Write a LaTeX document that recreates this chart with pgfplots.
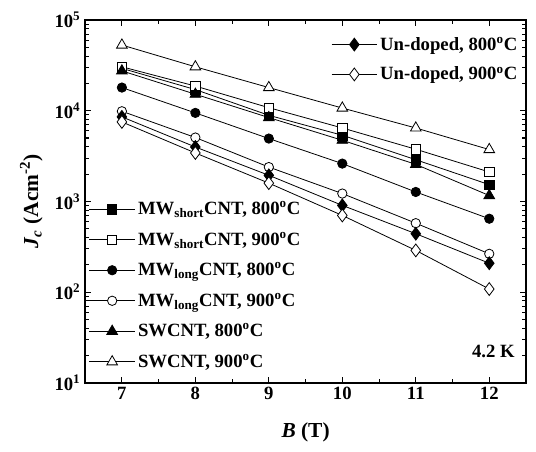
\documentclass[border=0pt]{standalone}
\usepackage{pgfplots}
\pgfplotsset{compat=1.18}
\usepackage{fontspec}
\setmainfont{Liberation Serif}

\newcommand{\dg}{\textsuperscript{o}C}

\tikzset{
  jcfill/.style={black, line width=0.6pt, mark size=3.5pt, mark options={solid, fill=black}},
  jcopen/.style={black, line width=0.6pt, mark size=3.5pt, mark options={solid, fill=white}},
}

\begin{document}
\begin{tikzpicture}
\begin{axis}[
  scale only axis,
  width=330pt, height=271.5pt,
  xmin=6.5, xmax=12.5, ymin=10, ymax=1e5,
  ymode=log,
  xtick={7,8,9,10,11,12},
  minor x tick num=1,
  tick align=inside,
  axis line style={line width=1.2pt},
  tick style={black, line width=0.8pt},
  xticklabel style={font=\bfseries\fontsize{14}{16}\selectfont, /pgf/number format/assume math mode=true},
  yticklabel style={font=\bfseries\fontsize{14}{16}\selectfont},
  yticklabel={\pgfmathparse{int(round(\tick/ln(10)))}10\textsuperscript{\pgfmathresult}},
  xlabel={\textit{B} (T)},
  ylabel={\textit{J}\textsubscript{\textit{c}} (Acm\textsuperscript{-2})},
  label style={font=\bfseries\fontsize{16}{18}\selectfont},
  xlabel style={yshift=-10pt},
  ylabel style={yshift=2pt},
  legend cell align=left,
  legend style={draw=none, fill=none, at={(0.005,0.025)}, anchor=south west,
    font=\bfseries\fontsize{14}{16}\selectfont, row sep=7.5pt, inner sep=1pt},
  legend image code/.code={\draw[mark repeat=2, mark phase=2] plot coordinates {(0cm,0cm) (0.6cm,0cm) (1.2cm,0cm)};},
]
% MW short 800
\addplot[jcfill, mark=square*] coordinates {
  (7,29300) (8,17100) (9,8900) (10,5360) (11,2880) (12,1530)};
\addlegendentry{MW\textsubscript{short}CNT, 800\dg}
% MW short 900
\addplot[jcopen, mark=square*] coordinates {
  (7,30500) (8,18700) (9,10800) (10,6450) (11,3760) (12,2110)};
\addlegendentry{MW\textsubscript{short}CNT, 900\dg}
% MW long 800
\addplot[jcfill, mark=*] coordinates {
  (7,18000) (8,9460) (9,4930) (10,2610) (11,1270) (12,644)};
\addlegendentry{MW\textsubscript{long}CNT, 800\dg}
% MW long 900
\addplot[jcopen, mark=*] coordinates {
  (7,9860) (8,5060) (9,2390) (10,1220) (11,575) (12,264)};
\addlegendentry{MW\textsubscript{long}CNT, 900\dg}
% SWCNT 800
\addplot[jcfill, mark=triangle*, mark size=4.6pt] coordinates {
  (7,27500) (8,15200) (9,8400) (10,4720) (11,2560) (12,1160)};
\addlegendentry{SWCNT, 800\dg}
% SWCNT 900
\addplot[jcopen, mark=triangle*, mark size=4.6pt] coordinates {
  (7,53000) (8,30500) (9,18000) (10,10700) (11,6450) (12,3730)};
\addlegendentry{SWCNT, 900\dg}
% Un-doped 800
\addplot[jcfill, mark=diamond*, mark size=4.8pt, forget plot] coordinates {
  (7,8550) (8,3980) (9,1940) (10,904) (11,440) (12,208)};
% Un-doped 900
\addplot[jcopen, mark=diamond*, mark size=4.8pt, forget plot] coordinates {
  (7,7520) (8,3420) (9,1590) (10,700) (11,288) (12,108)};

\node[anchor=south east, font=\bfseries\fontsize{14}{16}\selectfont]
  at (rel axis cs:0.985,0.055) {4.2 K};
\end{axis}

% second legend for the un-doped samples
\begin{axis}[
  scale only axis,
  width=330pt, height=271.5pt,
  xmin=6.5, xmax=12.5, ymin=10, ymax=1e5,
  ymode=log,
  hide axis,
  legend cell align=left,
  legend style={draw=none, fill=none, at={(0.99,0.965)}, anchor=north east,
    font=\bfseries\fontsize{14}{16}\selectfont, row sep=7pt, inner sep=1pt},
  legend image code/.code={\draw[mark repeat=2, mark phase=2] plot coordinates {(0cm,0cm) (0.6cm,0cm) (1.2cm,0cm)};},
]
\addlegendimage{jcfill, mark=diamond*, mark size=4.8pt}
\addlegendentry{Un-doped, 800\dg}
\addlegendimage{jcopen, mark=diamond*, mark size=4.8pt}
\addlegendentry{Un-doped, 900\dg}
\end{axis}

\useasboundingbox ([xshift=-63.75pt, yshift=-51.75pt]current axis.south west)
  rectangle ([xshift=7.5pt, yshift=15pt]current axis.north east);
\end{tikzpicture}
\end{document}
